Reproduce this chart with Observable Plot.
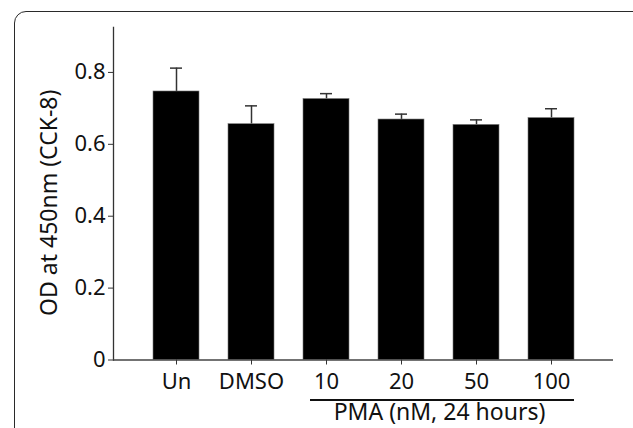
<!DOCTYPE html>
<html>
<head>
<meta charset="utf-8">
<script src="https://cdn.jsdelivr.net/npm/d3@7"></script>
<script src="https://cdn.jsdelivr.net/npm/@observablehq/plot@0.6"></script>
<style>
  html, body { margin: 0; padding: 0; background: #fff; }
  #wrap { position: relative; width: 633px; height: 428px; overflow: hidden; }
  #frame { position: absolute; left: 14px; top: 11px; width: 700px; height: 500px;
           border: 1.3px solid #2a2a2a; border-radius: 12px; pointer-events: none; box-sizing: border-box; }
  #wrap svg { position: absolute; left: 0; top: 0; }
</style>
</head>
<body>
<div id="wrap"><div id="frame"></div></div>
<script>
const categories = ["Un", "DMSO", "10", "20", "50", "100"];
const means = [0.747, 0.656, 0.726, 0.669, 0.654, 0.673];
const upper = [0.812, 0.707, 0.741, 0.684, 0.668, 0.699];
const yTicks = [0, 0.2, 0.4, 0.6, 0.8];
const yLabel = "OD at 450nm (CCK-8)";
const groupLabel = "PMA (nM, 24 hours)";
const groupStart = "10";
const groupEnd = "100";

const data = categories.map((c, i) => ({cat: c, mean: means[i], hi: upper[i]}));
const font = "'Noto Sans', 'Open Sans', sans-serif";

const chart = Plot.plot({
  width: 633,
  height: 428,
  marginLeft: 113,
  marginRight: 20,
  marginTop: 27,
  marginBottom: 68.5,
  style: {background: "transparent", fontFamily: font, color: "#111"},
  x: {domain: categories, paddingInner: 0.39, paddingOuter: 0.5, label: null},
  y: {domain: [0, 0.925], label: null},
  marks: [
    Plot.ruleX(data, {x: "cat", y1: "mean", y2: "hi", stroke: "#333", strokeWidth: 1.5}),
    Plot.tickY(data, {x: "cat", y: "hi", stroke: "#333", strokeWidth: 1.5, insetLeft: 17, insetRight: 17}),
    Plot.barY(data, {x: "cat", y: "mean", fill: "#000", stroke: "#777", strokeWidth: 0.6}),
    Plot.frame({anchor: "left", stroke: "#333", strokeWidth: 1.3}),
    Plot.ruleY([0], {stroke: "#444", strokeWidth: 1.3}),
    Plot.axisY({ticks: yTicks, tickFormat: d => d === 0 ? "0" : d.toFixed(1), tickSize: 5, tickPadding: 3,
      fontSize: 22, stroke: "#333", label: null}),
    Plot.axisX({tickSize: 5, tickPadding: 8, fontSize: 22, stroke: "#333", label: null}),
    Plot.text([yLabel], {frameAnchor: "left", textAnchor: "middle", text: d => d, rotate: -90, dx: -64, dy: 9, fontSize: 23, fill: "#111"}),
    Plot.ruleY([0], {x1: () => groupStart, x2: () => groupEnd, dy: 40, insetLeft: 7, stroke: "#111", strokeWidth: 2}),
    Plot.text([groupLabel], {x: () => "20", y: () => 0, text: d => d, dx: 38, dy: 53, fontSize: 23, fill: "#111"})
  ]
});
document.getElementById("wrap").insertBefore(chart, document.getElementById("frame"));
</script>
</body>
</html>
